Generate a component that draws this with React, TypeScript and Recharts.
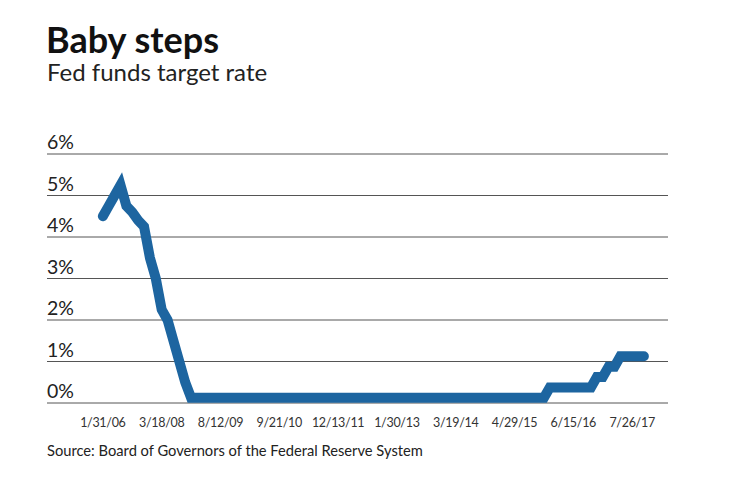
import React from 'react';
import { LineChart, Line, XAxis, YAxis, CartesianGrid } from 'recharts';

const tickLabels = ['1/31/06', '3/18/08', '8/12/09', '9/21/10', '12/13/11', '1/30/13', '3/19/14', '4/29/15', '6/15/16', '7/26/17'];
const tickIndices = [0, 10, 20, 30, 40, 50, 60, 70, 80, 90];
const yTicks = [0, 1, 2, 3, 4, 5, 6];

// Fed funds target rate (%), one value per observation
const rateValues = [
  4.5, 4.75, 5.0, 5.25, 4.75, 4.6, 4.4, 4.25, 3.5, 3.0,
  2.25, 2.0, 1.5, 1.0, 0.5, 0.125, 0.125, 0.125, 0.125, 0.125,
  0.125, 0.125, 0.125, 0.125, 0.125, 0.125, 0.125, 0.125, 0.125, 0.125,
  0.125, 0.125, 0.125, 0.125, 0.125, 0.125, 0.125, 0.125, 0.125, 0.125,
  0.125, 0.125, 0.125, 0.125, 0.125, 0.125, 0.125, 0.125, 0.125, 0.125,
  0.125, 0.125, 0.125, 0.125, 0.125, 0.125, 0.125, 0.125, 0.125, 0.125,
  0.125, 0.125, 0.125, 0.125, 0.125, 0.125, 0.125, 0.125, 0.125, 0.125,
  0.125, 0.125, 0.125, 0.125, 0.125, 0.125, 0.375, 0.375, 0.375, 0.375,
  0.375, 0.375, 0.375, 0.375, 0.625, 0.625, 0.875, 0.875, 1.125, 1.125,
  1.125, 1.125, 1.125,
];

const data = rateValues.map((rate, i) => ({ i, rate }));

const FONT = 'Lato, "Open Sans", sans-serif';

const YTick = (props: any) => {
  const { x, y, payload } = props;
  return (
    <text x={x} y={y - 5} fill="#222" fontSize={19.5} fontFamily={FONT} textAnchor="start">
      {payload.value}%
    </text>
  );
};

const XTick = (props: any) => {
  const { x, y, payload } = props;
  const idx = tickIndices.indexOf(payload.value);
  return (
    <text x={x} y={y + 24} fill="#333" fontSize={12.5} fontFamily={FONT} textAnchor="middle" letterSpacing={-0.3}>
      {tickLabels[idx]}
    </text>
  );
};

export default function App() {
  return (
    <div style={{ position: 'absolute', left: 0, top: 0, width: 740, height: 482, background: '#fff' }}>
      <LineChart
        width={740}
        height={482}
        data={data}
        margin={{ top: 154, right: 72, bottom: 49, left: 47 }}
      >
        <CartesianGrid horizontal vertical={false} stroke="#555" strokeWidth={1} />
        <XAxis
          dataKey="i"
          type="number"
          domain={[-9.5, 96.1]}
          ticks={tickIndices}
          height={30}
          axisLine={false}
          tickLine={false}
          tickSize={0}
          tickMargin={0}
          tick={<XTick />}
          interval={0}
          allowDataOverflow
        />
        <YAxis
          domain={[0, 6]}
          ticks={yTicks}
          width={1}
          mirror
          axisLine={false}
          tickLine={false}
          tickSize={0}
          tickMargin={0}
          tick={<YTick />}
          allowDataOverflow
        />
        <Line
          type="linear"
          dataKey="rate"
          stroke="#1d65a0"
          strokeWidth={10}
          strokeLinecap="round"
          strokeLinejoin="miter"
          dot={false}
          activeDot={false}
          isAnimationActive={false}
        />
      </LineChart>
      <svg width={740} height={482} style={{ position: 'absolute', left: 0, top: 0, pointerEvents: 'none' }}>
        <text x={46} y={53} fontSize={36} fontWeight={700} fill="#111" fontFamily={FONT}>Baby steps</text>
        <text x={47} y={81} fontSize={24} fill="#222" fontFamily={FONT}>Fed funds target rate</text>
        <text x={47} y={456} fontSize={14.7} fill="#222" fontFamily={FONT}>Source: Board of Governors of the Federal Reserve System</text>
      </svg>
    </div>
  );
}
